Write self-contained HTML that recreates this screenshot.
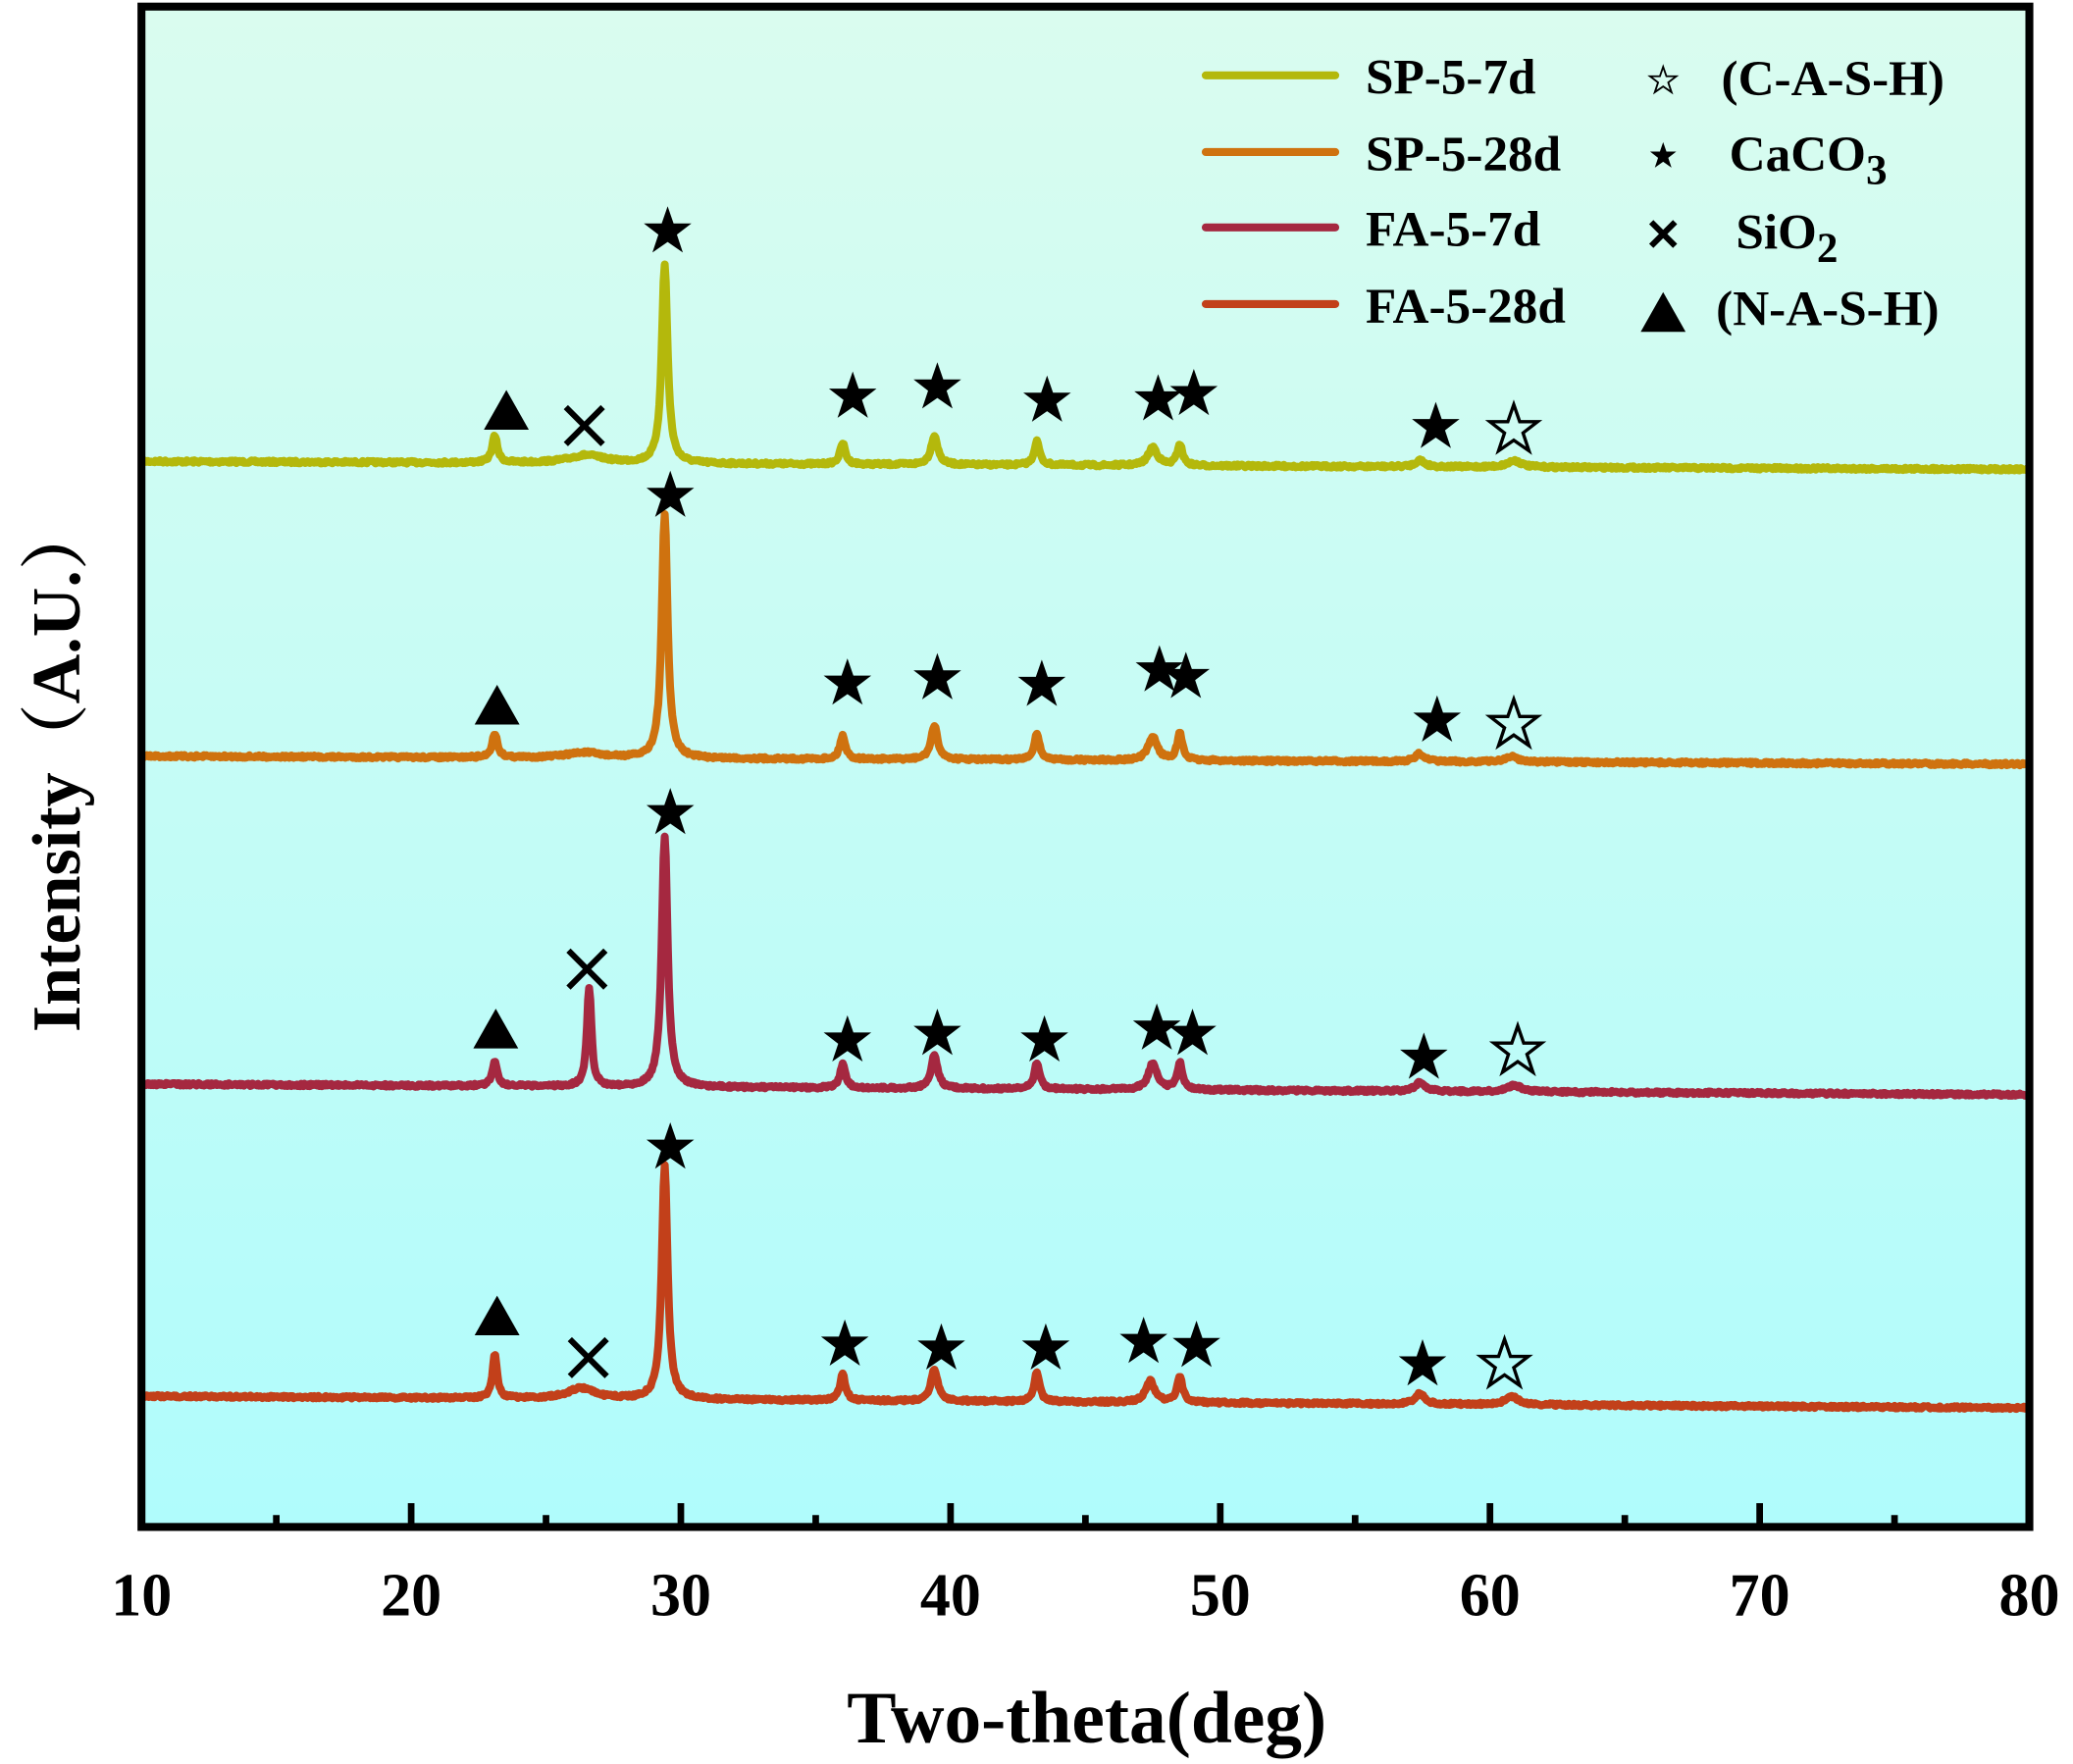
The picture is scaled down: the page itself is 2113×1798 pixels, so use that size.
<!DOCTYPE html>
<html><head><meta charset="utf-8"><style>
html,body{margin:0;padding:0;background:#fff}
svg{display:block}
text{font-family:"Liberation Serif",serif;font-weight:bold;fill:#000}
</style></head><body>
<svg id="s" width="2113" height="1798" viewBox="0 0 1568 1334.3" preserveAspectRatio="none" xmlns="http://www.w3.org/2000/svg">
<defs>
<linearGradient id="bg" x1="0" y1="0" x2="0" y2="1">
<stop offset="0" stop-color="#dafcef"/><stop offset="1" stop-color="#b0fcfc"/>
</linearGradient>
<path id="st" d="M0,-19 L4.5,-6 L18,-6 L7,2.5 L11.5,16 L0,8 L-11.5,16 L-7,2.5 L-18,-6 L-4.5,-6Z"/>
</defs>
<rect x="107" y="5" width="1428" height="1150" fill="url(#bg)"/>
<g id="curves"></g>
<g id="marks"></g>
<rect x="107" y="5" width="1428" height="1150" fill="none" stroke="#000" stroke-width="6"/>
<g id="ticks" stroke="#000" stroke-width="5"></g>
<g font-size="46" text-anchor="middle">
<text x="107" y="1222">10</text><text x="311" y="1222">20</text><text x="515" y="1222">30</text><text x="719" y="1222">40</text><text x="923" y="1222">50</text><text x="1127" y="1222">60</text><text x="1331" y="1222">70</text><text x="1535" y="1222">80</text>
</g>
<text x="822" y="1318" font-size="56" text-anchor="middle">Two-theta(deg)</text>
<text transform="translate(60,580) rotate(-90)" font-size="52" text-anchor="middle" style="font-family:'Liberation Serif','Noto Serif CJK SC',serif">Intensity（A.U.）</text>
<g stroke-width="6" stroke-linecap="round">
<line x1="912" y1="57" x2="1010" y2="57" stroke="#b4b80c"/>
<line x1="912" y1="115" x2="1010" y2="115" stroke="#cf720f"/>
<line x1="912" y1="172" x2="1010" y2="172" stroke="#a52840"/>
<line x1="912" y1="230" x2="1010" y2="230" stroke="#c2401a"/>
</g>
<g font-size="38">
<text x="1033" y="71">SP-5-7d</text>
<text x="1033" y="129">SP-5-28d</text>
<text x="1033" y="186">FA-5-7d</text>
<text x="1033" y="244">FA-5-28d</text>
<text x="1302" y="72">(C-A-S-H)</text>
<text x="1308" y="129">CaCO<tspan font-size="32" dy="10">3</tspan></text>
<text x="1313" y="188">SiO<tspan font-size="32" dy="10">2</tspan></text>
<text x="1298" y="246">(N-A-S-H)</text>
</g>
</svg>
<script>
var NS="http://www.w3.org/2000/svg";
function X(d){return 107+(d-10)*20.4;}
var seed=7;function rnd(){seed=(seed*16807)%2147483647;return seed/2147483647;}
var series=[
{c:"#b4b80c",b0:349,b1:355,p:[[23.1,20,.12],[26.5,6,.8],[29.4,150,.13],[36,16,.12],[39.4,22,.15],[43.2,18,.12],[47.5,14,.2],[48.5,16,.12],[57.4,5,.2],[60.9,5,.3]]},
{c:"#cf720f",b0:572,b1:578,p:[[23.1,18,.12],[26.4,4,.8],[29.4,184,.13],[36,18,.12],[39.4,25,.15],[43.2,20,.12],[47.5,18,.2],[48.5,20,.12],[57.4,6,.2],[60.8,4,.3]]},
{c:"#a52840",b0:820,b1:828,p:[[23.1,18,.12],[26.6,75,.1],[29.4,190,.13],[36,18,.12],[39.4,25,.15],[43.2,20,.12],[47.5,20,.2],[48.5,20,.12],[57.4,7,.2],[60.9,5,.3]]},
{c:"#c2401a",b0:1056,b1:1065,p:[[23.1,34,.1],[26.3,8,.6],[29.4,176,.13],[36,20,.12],[39.4,24,.15],[43.2,22,.12],[47.4,16,.2],[48.5,20,.12],[57.4,8,.2],[60.8,6,.3]]}
];
var g=document.getElementById("curves");
series.forEach(function(s){
 var d="";
 for(var t=10;t<=80;t+=0.04){
  var y=s.b0+(s.b1-s.b0)*(t-10)/70;
  s.p.forEach(function(p){var u=(t-p[0])/p[2];y-=p[1]/(1+u*u);});
  y+=(rnd()-0.5)*2;
  d+=(d?"L":"M")+X(t).toFixed(1)+","+y.toFixed(1);
 }
 var pa=document.createElementNS(NS,"path");
 pa.setAttribute("d",d);pa.setAttribute("fill","none");pa.setAttribute("stroke",s.c);pa.setAttribute("stroke-width","6");pa.setAttribute("stroke-linejoin","round");
 g.appendChild(pa);
});
var m=document.getElementById("marks");
function star(x,y,open,sc){var u=document.createElementNS(NS,"use");u.setAttribute("href","#st");
 u.setAttribute("transform","translate("+x+","+y+") scale("+(sc||1)+")");
 if(open){u.setAttribute("fill","none");u.setAttribute("stroke","#000");u.setAttribute("stroke-width","2.5");}else u.setAttribute("fill","#000");m.appendChild(u);}
function tri(x,y){var p=document.createElementNS(NS,"path");p.setAttribute("d","M"+x+","+(y-17)+" L"+(x+17)+","+(y+13)+" L"+(x-17)+","+(y+13)+"Z");m.appendChild(p);}
function cross(x,y,s){s=s||14;var p=document.createElementNS(NS,"path");p.setAttribute("d","M"+(x-s)+","+(y-s)+"L"+(x+s)+","+(y+s)+"M"+(x+s)+","+(y-s)+"L"+(x-s)+","+(y+s));p.setAttribute("stroke","#000");p.setAttribute("stroke-width","4.5");m.appendChild(p);}
tri(383,312);cross(442,322);star(505,175);[[645,300],[709,293],[792,303],[876,302],[903,298],[1086,323]].forEach(function(a){star(a[0],a[1]);});star(1145,325,1);
star(507,375);tri(376,535);[[641,517],[709,513],[788,518],[877,507],[897,512],[1087,545]].forEach(function(a){star(a[0],a[1]);});star(1145,548,1);
star(507,615);cross(444,733);tri(375,780);[[641,787],[709,782],[790,787],[875,778],[902,782],[1077,800]].forEach(function(a){star(a[0],a[1]);});star(1148,795,1);
star(507,868);tri(376,997);cross(445,1027);[[639,1017],[712,1020],[791,1020],[865,1015],[905,1018],[1076,1032]].forEach(function(a){star(a[0],a[1]);});star(1138,1032,1);
star(1258,61,1,0.55);star(1258,118,0,0.55);cross(1258,177,9);tri(1258,238);
var tk=document.getElementById("ticks");
for(var d=15;d<80;d+=5){var l=document.createElementNS(NS,"line");var x=X(d);l.setAttribute("x1",x);l.setAttribute("x2",x);l.setAttribute("y1",1155);l.setAttribute("y2",d%10==0?1137:1146);tk.appendChild(l);}
</script>
</body></html>
